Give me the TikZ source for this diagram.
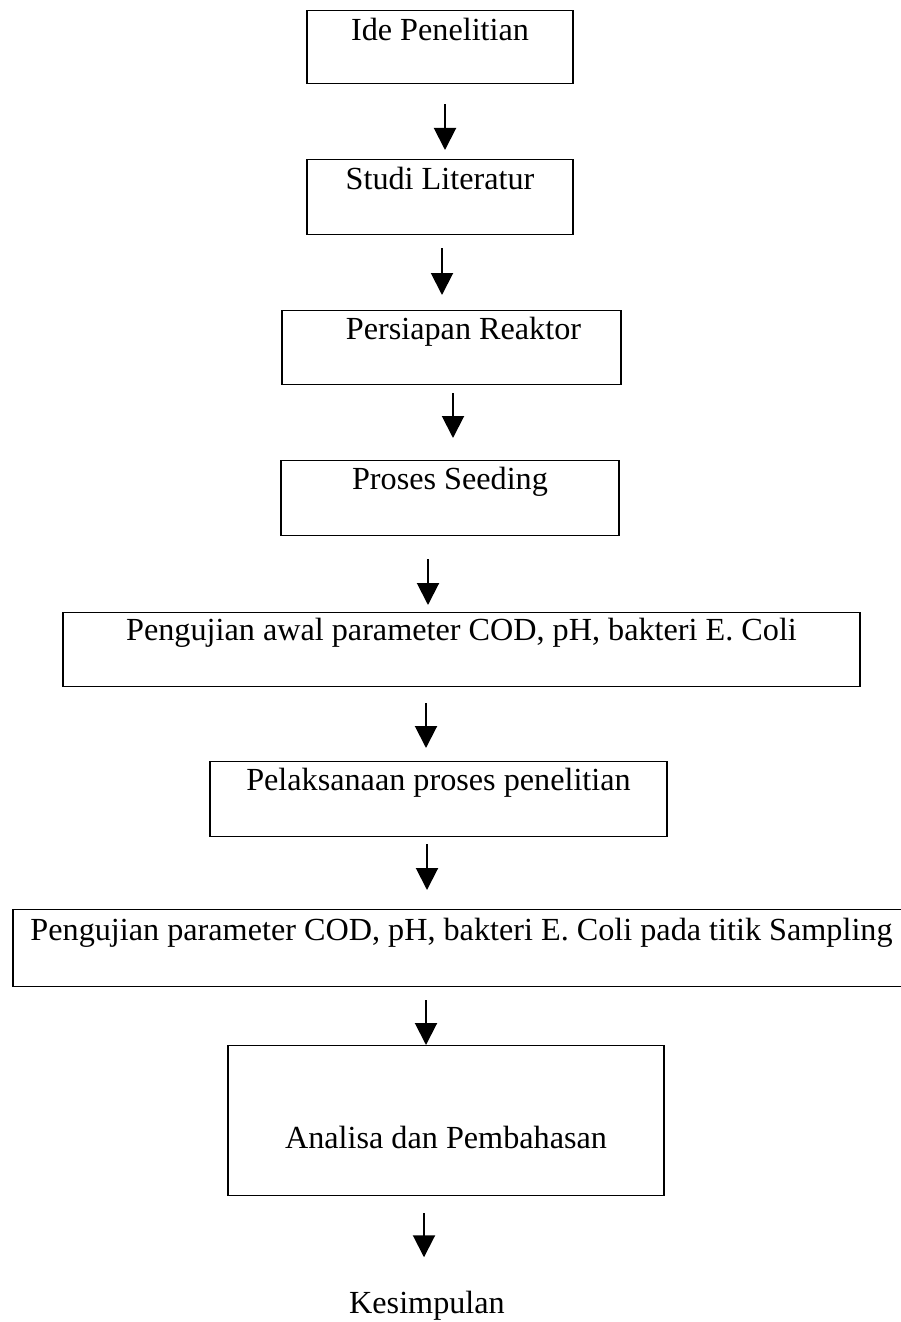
\documentclass[tikz,border=0pt]{standalone}
\usepackage{fontspec}
\setmainfont{Liberation Serif}
\usepackage{tikz}
\usetikzlibrary{arrows.meta}
\tikzset{
    tahap/.style={
           rectangle,
           draw=black, line width=0.6pt,
           inner xsep=0pt, inner ysep=0pt,
           anchor=north,
           align=center,
           text height=15pt,
           text depth=22.5pt,
           font=\fontsize{16.1pt}{19pt}\selectfont},
    teks/.style={
           inner sep=0pt,
           anchor=base,
           font=\fontsize{16.1pt}{19pt}\selectfont},
    panah/.style={
           -{Triangle[length=11pt,width=11pt]},
           black, line width=1pt}
    }
\begin{document}
\begin{tikzpicture}[x=0.5pt,y=-0.5pt]
      \useasboundingbox (0,0) rectangle (900,1322);
      \node[tahap, minimum width=133pt, text depth=21.5pt] (ide) at (440,10) {Ide Penelitian};
      \node[tahap, minimum width=133pt] (studi) at (440,159) {Studi Literatur};
      \node[tahap, minimum width=169.5pt, text height=14.5pt] (reaktor) at (451.5,310) {\hspace*{12pt}Persiapan Reaktor};
      \node[tahap, minimum width=169pt, text height=14.5pt, text depth=23pt] (seeding) at (450,460) {Proses Seeding};
      \node[tahap, minimum width=398.5pt, text height=14pt, text depth=23pt] (ujiawal) at (461.5,612) {Pengujian awal parameter COD, pH, bakteri E. Coli};
      \node[tahap, minimum width=228.5pt, text height=14.5pt, text depth=23pt] (pelaksanaan) at (438.5,761) {Pelaksanaan proses penelitian};
      \node[tahap, minimum width=448.5pt, text height=15.5pt, text depth=23pt] (ujisampling) at (461.5,909) {Pengujian parameter COD, pH, bakteri E. Coli pada titik Sampling};
      \node[tahap, minimum width=218pt, text height=51.5pt, text depth=23.5pt] (analisa) at (446,1045) {Analisa dan Pembahasan};
      \node[teks] (kesimpulan) at (427,1313) {Kesimpulan};
      \draw[panah, shorten <=10pt, shorten >=4.5pt] ([xshift=2.5pt]ide.south) -- ([xshift=2.5pt]ide.south |- studi.north);
      \draw[panah, shorten <=6.5pt, shorten >=7.5pt] ([xshift=1pt]studi.south) -- ([xshift=1pt]studi.south |- reaktor.north);
      \draw[panah, shorten <=4pt, shorten >=11pt] ([xshift=0.75pt]reaktor.south) -- ([xshift=0.75pt]reaktor.south |- seeding.north);
      \draw[panah, shorten <=11.5pt, shorten >=3.5pt] ([xshift=-11pt]seeding.south) -- ([xshift=-11pt]seeding.south |- ujiawal.north);
      \draw[panah, shorten <=8pt, shorten >=6.5pt] ([xshift=-17.75pt]ujiawal.south) -- ([xshift=-17.75pt]ujiawal.south |- pelaksanaan.north);
      \draw[panah, shorten <=3.5pt, shorten >=9.5pt] ([xshift=-5.75pt]pelaksanaan.south) -- ([xshift=-5.75pt]pelaksanaan.south |- ujisampling.north);
      \draw[panah, shorten <=6.5pt] ([xshift=-17.75pt]ujisampling.south) -- ([xshift=-17.75pt]ujisampling.south |- analisa.north);
      \draw[panah, shorten <=8.5pt, shorten >=16.5pt] ([xshift=-11pt]analisa.south) -- ([xshift=-11pt]analisa.south |- kesimpulan.north);
\end{tikzpicture}
\end{document}
